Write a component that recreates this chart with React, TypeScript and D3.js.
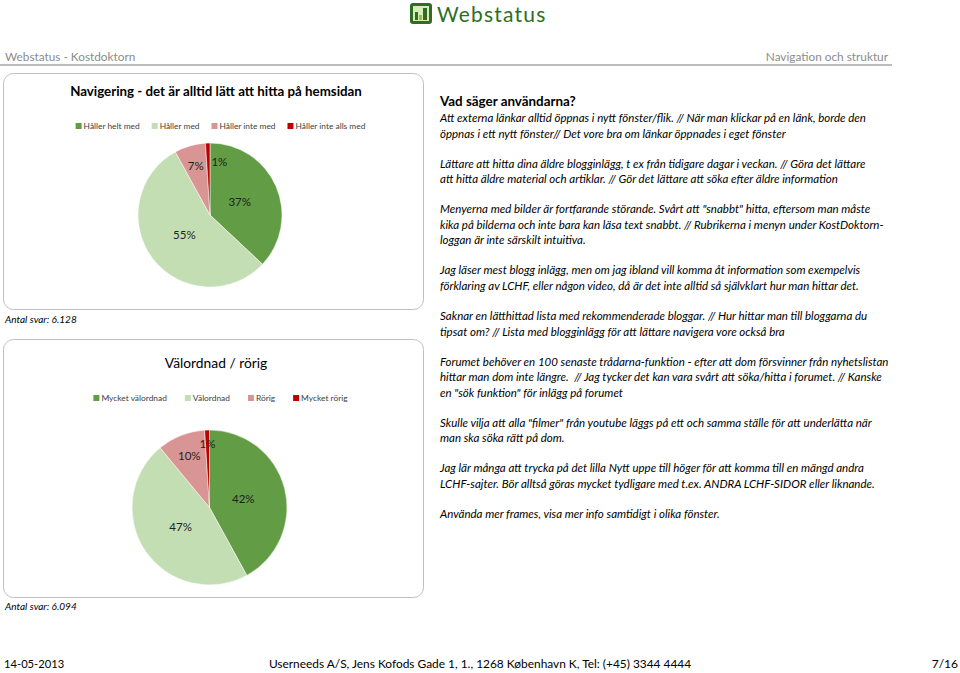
import React, { useEffect, useRef } from "react";
import * as d3 from "d3";

// chart data
const navTitle = "Navigering - det är alltid lätt att hitta på hemsidan";
const navCategories = ["Håller helt med", "Håller med", "Håller inte med", "Håller inte alls med"];
const navValues = [37, 55, 7, 1];
const navAnswers = "Antal svar: 6.128";

const orderTitle = "Välordnad / rörig";
const orderCategories = ["Mycket välordnad", "Välordnad", "Rörig", "Mycket rörig"];
const orderValues = [42, 47, 10, 1];
const orderAnswers = "Antal svar: 6.094";

const sliceColors = ["#629c44", "#c3deb3", "#d99594", "#c00000"];

const commentsTitle = "Vad säger användarna?";
const comments = [
  ["Att externa länkar alltid öppnas i nytt fönster/flik. // När man klickar på en länk, borde den",
    "öppnas i ett nytt fönster// Det vore bra om länkar öppnades i eget fönster"],
  ["Lättare att hitta dina äldre blogginlägg, t ex från tidigare dagar i veckan. // Göra det lättare",
    "att hitta äldre material och artiklar. // Gör det lättare att söka efter äldre information"],
  ["Menyerna med bilder är fortfarande störande. Svårt att \"snabbt\" hitta, eftersom man måste",
    "kika på bilderna och inte bara kan läsa text snabbt. // Rubrikerna i menyn under KostDoktorn-",
    "loggan är inte särskilt intuitiva."],
  ["Jag läser mest blogg inlägg, men om jag ibland vill komma åt information som exempelvis",
    "förklaring av LCHF, eller någon video, då är det inte alltid så självklart hur man hittar det."],
  ["Saknar en lätthittad lista med rekommenderade bloggar. // Hur hittar man till bloggarna du",
    "tipsat om? // Lista med blogginlägg för att lättare navigera vore också bra"],
  ["Forumet behöver en 100 senaste trådarna-funktion - efter att dom försvinner från nyhetslistan",
    "hittar man dom inte längre.  // Jag tycker det kan vara svårt att söka/hitta i forumet. // Kanske",
    "en \"sök funktion\" för inlägg på forumet"],
  ["Skulle vilja att alla \"filmer\" från youtube läggs på ett och samma ställe för att underlätta när",
    "man ska söka rätt på dom."],
  ["Jag lär många att trycka på det lilla Nytt uppe till höger för att komma till en mängd andra",
    "LCHF-sajter. Bör alltså göras mycket tydligare med t.ex. ANDRA LCHF-SIDOR eller liknande."],
  ["Använda mer frames, visa mer info samtidigt i olika fönster."],
];

const headerLeft = "Webstatus - Kostdoktorn";
const headerRight = "Navigation och struktur";
const footerDate = "14-05-2013";
const footerAddress = "Userneeds A/S, Jens Kofods Gade 1, 1., 1268 København K, Tel: (+45) 3344 4444";
const footerPage = "7/16";

const FONT = "Lato, 'Open Sans', sans-serif";

const App = () => {
  const svgRef = useRef<SVGSVGElement>(null);

  useEffect(() => {
    if (!svgRef.current) return;
    document.body.style.margin = "0";
    const svg = d3.select(svgRef.current);
    svg.selectAll("*").remove();
    svg.attr("font-family", FONT);

    // logo
    const logo = svg.append("g").attr("transform", "translate(410,3)");
    logo.append("rect").attr("width", 22).attr("height", 21).attr("rx", 3).attr("fill", "#2d6e24");
    logo.append("rect").attr("x", 3).attr("y", 3).attr("width", 16).attr("height", 15).attr("fill", "#d8ecb8");
    logo.append("rect").attr("x", 5).attr("y", 9).attr("width", 3).attr("height", 8).attr("fill", "#2d6e24");
    logo.append("rect").attr("x", 9).attr("y", 12).attr("width", 3).attr("height", 5).attr("fill", "#8cc63f");
    logo.append("rect").attr("x", 13).attr("y", 5).attr("width", 4).attr("height", 12).attr("fill", "#2d6e24");
    svg.append("text").attr("x", 437).attr("y", 22).attr("font-size", 21).attr("fill", "#2d6e24")
      .attr("letter-spacing", 1.2).text("Webstatus");

    // header
    svg.append("text").attr("x", 5).attr("y", 61).attr("font-size", 11.8).attr("fill", "#8c8c8c").text(headerLeft);
    svg.append("text").attr("x", 888).attr("y", 61).attr("text-anchor", "end").attr("font-size", 11.8)
      .attr("fill", "#8c8c8c").text(headerRight);
    svg.append("line").attr("x1", 0).attr("x2", 892).attr("y1", 65).attr("y2", 65)
      .attr("stroke", "#a6a6a6").attr("stroke-width", 1.5);

    // pie chart panels
    const drawPanel = (opts: {
      top: number; height: number; title: string; titleSize: number; titleWeight: string; titleY: number;
      categories: string[]; values: number[]; legendY: number; legendGap: number;
      cx: number; cy: number; r: number; answers: string; answersY: number; smallDx: number; smallR: number;
    }) => {
      const g = svg.append("g");
      g.append("rect").attr("x", 3.5).attr("y", opts.top).attr("width", 420).attr("height", opts.height)
        .attr("rx", 10).attr("fill", "#fff").attr("stroke", "#bfbfbf");
      g.append("text").attr("x", 216).attr("y", opts.titleY).attr("text-anchor", "middle")
        .attr("font-size", opts.titleSize).attr("font-weight", opts.titleWeight).attr("fill", "#000")
        .text(opts.title);

      // legend, centred
      const leg = g.append("g");
      let x = 0;
      opts.categories.forEach((c, i) => {
        const item = leg.append("g").attr("transform", `translate(${x},0)`);
        item.append("rect").attr("x", 0).attr("y", -3).attr("width", 6).attr("height", 6).attr("fill", sliceColors[i]);
        const t = item.append("text").attr("x", 8).attr("y", 3.2).attr("font-size", 8.4).attr("fill", "#404040").text(c);
        const w = (t.node() as SVGTextElement).getComputedTextLength();
        x += 8 + w + opts.legendGap;
      });
      const legW = x - opts.legendGap;
      leg.attr("transform", `translate(${220.5 - legW / 2},${opts.legendY})`);

      // pie
      const pie = d3.pie<number>().sort(null).value(d => d);
      const arcs = pie(opts.values);
      const arc = d3.arc<d3.PieArcDatum<number>>().innerRadius(0).outerRadius(opts.r);
      const total = d3.sum(opts.values);
      const pg = g.append("g").attr("transform", `translate(${opts.cx},${opts.cy})`);
      pg.selectAll("path").data(arcs).enter().append("path")
        .attr("d", arc).attr("fill", (_, i) => sliceColors[i]).attr("stroke", "#fff").attr("stroke-width", 0.5);
      pg.selectAll("text").data(arcs).enter().append("text")
        .attr("transform", d => {
          const f = d.data / total;
          const lr = f >= 0.2 ? opts.r * 0.45 : f >= 0.03 ? opts.r * 0.71 : opts.r * opts.smallR;
          const [lx, ly] = d3.arc<d3.PieArcDatum<number>>().innerRadius(lr).outerRadius(lr).centroid(d);
          return `translate(${lx + (f < 0.03 ? opts.smallDx : 0)},${ly})`;
        })
        .attr("text-anchor", "middle").attr("dy", "0.35em").attr("font-size", 11.5).attr("fill", "#1f1f1f")
        .text(d => `${Math.round((d.data / total) * 100)}%`);

      g.append("text").attr("x", 5).attr("y", opts.answersY).attr("font-size", 10).attr("font-style", "italic")
        .attr("fill", "#000").text(opts.answers);
    };

    drawPanel({
      top: 73.5, height: 236, title: navTitle, titleSize: 13.3, titleWeight: "bold", titleY: 95.5,
      categories: navCategories, values: navValues, legendY: 126, legendGap: 12,
      cx: 210, cy: 215, r: 72, answers: navAnswers, answersY: 323, smallDx: 11, smallR: 0.74,
    });
    drawPanel({
      top: 339.5, height: 258, title: orderTitle, titleSize: 13.8, titleWeight: "normal", titleY: 368,
      categories: orderCategories, values: orderValues, legendY: 398, legendGap: 18,
      cx: 209.5, cy: 507.5, r: 77.5, answers: orderAnswers, answersY: 610, smallDx: 0, smallR: 0.82,
    });

    // comments
    const tc = svg.append("g").attr("transform", "translate(440,0)");
    tc.append("text").attr("y", 105.5).attr("font-size", 13.4).attr("font-weight", "bold").text(commentsTitle);
    let y = 122;
    comments.forEach(par => {
      par.forEach(line => {
        tc.append("text").attr("y", y).attr("font-size", 11.5).attr("font-style", "italic")
          .attr("fill", "#000").style("white-space", "pre").text(line);
        y += 15.6;
      });
      y += 14.4;
    });

    // footer
    svg.append("text").attr("x", 4).attr("y", 668).attr("font-size", 11.2).text(footerDate);
    svg.append("text").attr("x", 480).attr("y", 668).attr("text-anchor", "middle").attr("font-size", 11.9).text(footerAddress);
    svg.append("text").attr("x", 958).attr("y", 668).attr("text-anchor", "end").attr("font-size", 12).text(footerPage);
  }, []);

  return <svg ref={svgRef} width={960} height={673} style={{ display: "block", background: "#fff" }} />;
};

export default App;
